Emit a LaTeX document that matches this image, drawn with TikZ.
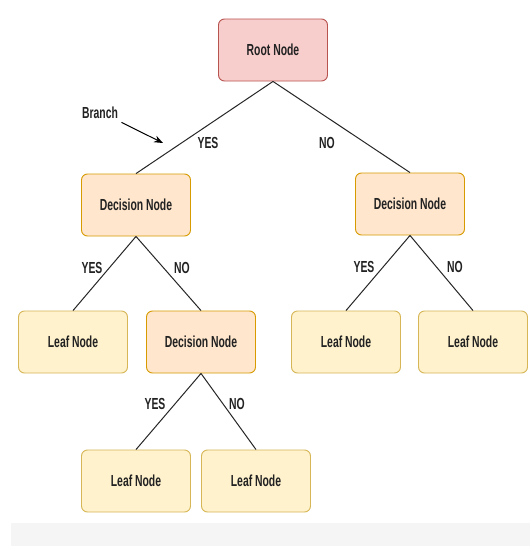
\documentclass[tikz,border=0pt]{standalone}
\usepackage{fontspec}
\setmainfont{Liberation Sans}[FakeStretch=0.65]
\usetikzlibrary{arrows.meta}

\definecolor{rootfill}{HTML}{F8CECC}
\definecolor{rootline}{HTML}{B85450}
\definecolor{decfill}{HTML}{FFE6CC}
\definecolor{decline}{HTML}{D79B00}
\definecolor{leaffill}{HTML}{FFF2CC}
\definecolor{leafline}{HTML}{D6B656}
\definecolor{txt}{HTML}{222222}

\tikzset{
    box/.style={rounded corners=6pt, line width=0.9pt, minimum width=109pt,
        minimum height=62pt, font=\fontsize{16}{18}\selectfont\bfseries, text=txt},
    rootbox/.style={box, draw=rootline, fill=rootfill},
    decisionbox/.style={box, draw=decline, fill=decfill},
    leafbox/.style={box, draw=leafline, fill=leaffill},
    lbl/.style={font=\fontsize{16}{18}\selectfont\bfseries, text=txt},
    edge/.style={line width=1pt, draw=black!85}
}

\begin{document}
\begin{tikzpicture}[x=1pt, y=-1pt, >={Stealth[length=9pt, width=7pt]}]
    \useasboundingbox (0, 0) rectangle (530, 546);
    \fill[white] (0, 0) rectangle (530, 546);
    \fill[black!4] (11, 523) rectangle (530, 546);

    % Nodes
    \node[rootbox] (root) at (273, 50) {Root Node};
    \node[decisionbox] (decL) at (136, 205) {Decision Node};
    \node[decisionbox] (decR) at (410, 204) {Decision Node};
    \node[leafbox] (leafA) at (73, 342) {Leaf Node};
    \node[decisionbox] (decM) at (201, 342) {Decision Node};
    \node[leafbox] (leafB) at (346, 342) {Leaf Node};
    \node[leafbox] (leafC) at (473, 342) {Leaf Node};
    \node[leafbox] (leafD) at (136, 481) {Leaf Node};
    \node[leafbox] (leafE) at (256, 481) {Leaf Node};

    % Branches
    \draw[edge] (root.south) -- (decL.north);
    \draw[edge] (root.south) -- (decR.north);
    \draw[edge] (decL.south) -- (leafA.north);
    \draw[edge] (decL.south) -- (decM.north);
    \draw[edge] (decR.south) -- (leafB.north);
    \draw[edge] (decR.south) -- (leafC.north);
    \draw[edge] (decM.south) -- (leafD.north);
    \draw[edge] (decM.south) -- (leafE.north);

    % Labels
    \node[lbl] (yes1) at (208, 143) {YES};
    \node[lbl] (no1) at (327, 143) {NO};
    \node[lbl] (yes2) at (92, 268) {YES};
    \node[lbl] (no2) at (182, 268) {NO};
    \node[lbl] (yes3) at (364, 267) {YES};
    \node[lbl] (no3) at (455, 267) {NO};
    \node[lbl] (yes4) at (155, 404) {YES};
    \node[lbl] (no4) at (237, 404) {NO};

    % Branch pointer
    \node[lbl] (branch) at (100, 113) {Branch};
    \coordinate (tip) at (163, 143);
    \draw[->, line width=1pt] (branch.south east) -- (tip);
\end{tikzpicture}
\end{document}
